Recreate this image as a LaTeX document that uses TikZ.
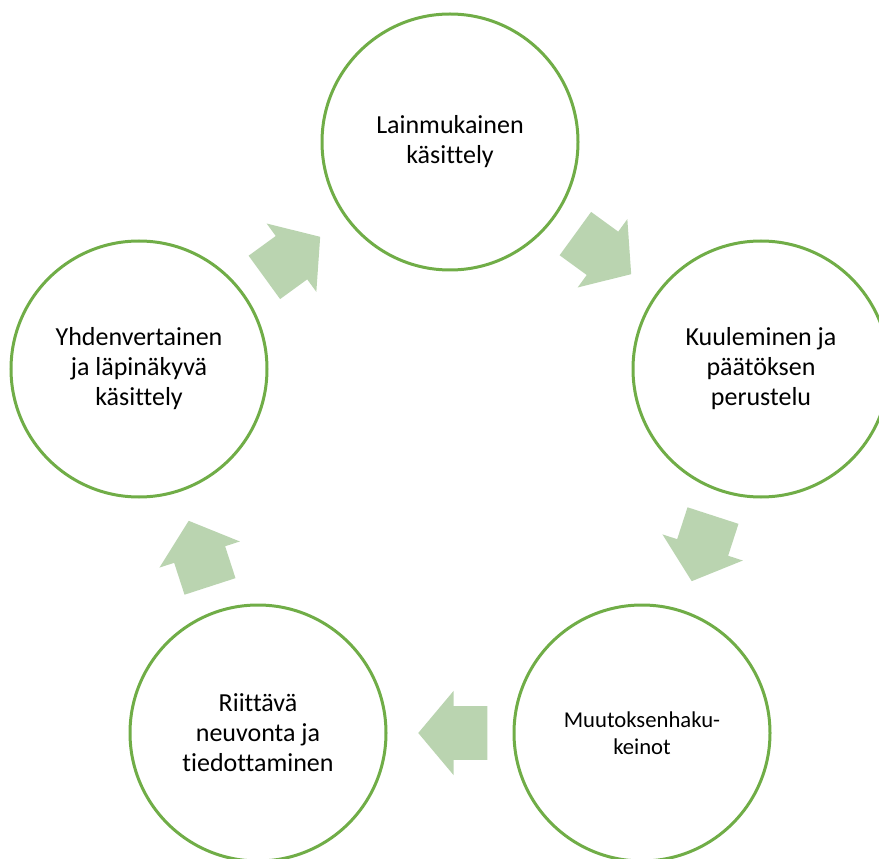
\documentclass[tikz,border=0pt]{standalone}
\usepackage{fontspec}
\setmainfont{Carlito}[Ligatures=NoCommon]
\usepackage{tikz}
\usetikzlibrary{shapes.arrows,calc}
\definecolor{ringgreen}{RGB}{112,173,71}
\definecolor{flowgreen}{RGB}{186,212,176}
\tikzset{
  stage/.style={draw=ringgreen, line width=2.25pt, circle, minimum size=192pt, fill=white, align=center, font=\fontsize{19.5}{22.5}\selectfont},
  flow/.style={single arrow, fill=flowgreen, draw=none, minimum height=51.75pt, minimum width=63pt, inner xsep=0pt, inner ysep=19.9pt, single arrow tip angle=100, single arrow head extend=11.6pt, xshift=-10.5pt}
}
\begin{document}
\begin{tikzpicture}[x=0.75pt,y=-0.75pt]
\clip (0,0) rectangle (879,859);
\node (L1) at (450,142)[stage] {Lainmukainen\\käsittely};
\node (L2) at (761,369)[stage] {Kuuleminen ja\\päätöksen\\perustelu};
\node (L3) at (642,733)[stage, font=\fontsize{17}{20.25}\selectfont] {Muutoksenhaku-\\keinot};
\node (L4) at (258,733)[stage] {Riittävä\\neuvonta ja\\tiedottaminen};
\node (L5) at (139,369)[stage] {Yhdenvertainen\\ja läpinäkyvä\\käsittely};
\node (A12) at ($(L1)!0.5!(L2)$)[rotate=-36, flow] {};
\node (A23) at ($(L2)!0.5!(L3)$)[rotate=-108, flow] {};
\node (A34) at ($(L3)!0.5!(L4)$)[rotate=180, flow] {};
\node (A45) at ($(L4)!0.5!(L5)$)[rotate=108, flow] {};
\node (A51) at ($(L5)!0.5!(L1)$)[rotate=36, flow] {};
\end{tikzpicture}
\end{document}
